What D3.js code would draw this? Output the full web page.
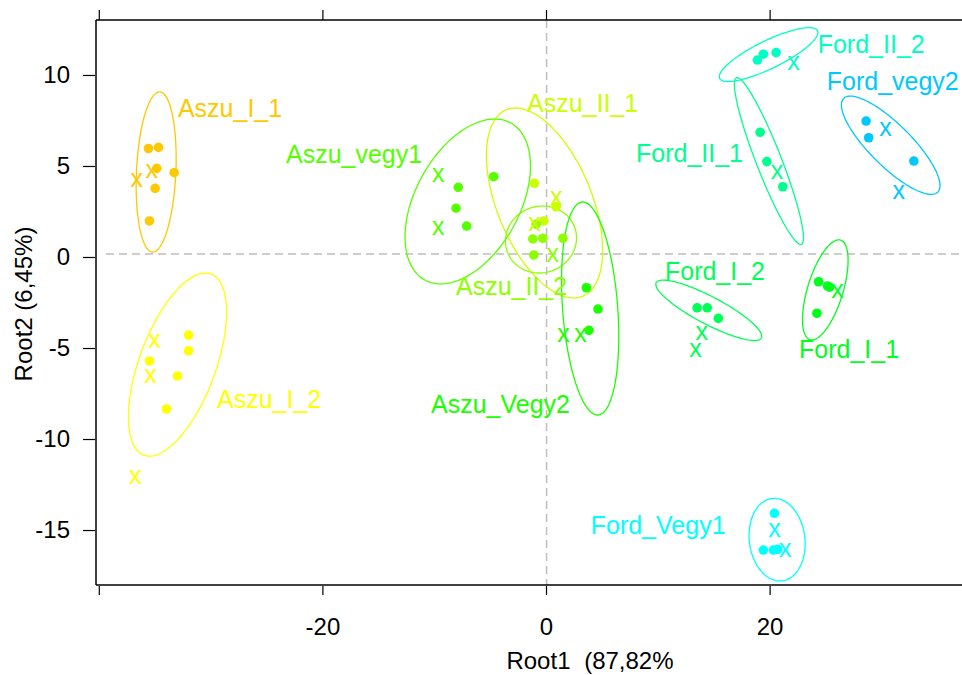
<!DOCTYPE html>
<html>
<head>
<meta charset="utf-8">
<script src="https://cdn.jsdelivr.net/npm/d3@7"></script>
<style>
  html, body { margin: 0; padding: 0; background: #fff; }
  svg { display: block; font-family: "Liberation Sans", Arial, sans-serif; }
</style>
</head>
<body>
<svg id="chart" width="962" height="675"></svg>
<script>
// Groups of the canonical discriminant analysis, in plotting order
const groups = ["Aszu_I_1", "Aszu_I_2", "Aszu_II_1", "Aszu_II_2", "Aszu_vegy1", "Aszu_Vegy2",
                "Ford_I_1", "Ford_I_2", "Ford_II_1", "Ford_II_2", "Ford_Vegy1", "Ford_vegy2"];

// Canonical scores of the classified cases: [group, Root1, Root2]
const scores = [
  ["Aszu_I_1", -35.56, 5.96], ["Aszu_I_1", -34.66, 6.02], ["Aszu_I_1", -34.81, 4.87],
  ["Aszu_I_1", -33.26, 4.63], ["Aszu_I_1", -34.96, 3.77], ["Aszu_I_1", -35.47, 1.98],
  ["Aszu_I_2", -31.97, -4.29], ["Aszu_I_2", -31.97, -5.16], ["Aszu_I_2", -35.47, -5.71],
  ["Aszu_I_2", -32.96, -6.54], ["Aszu_I_2", -33.95, -8.35],
  ["Aszu_II_1", -1.03, 4.05], ["Aszu_II_1", 0.91, 2.76], ["Aszu_II_1", -0.20, 1.98],
  ["Aszu_II_2", -0.88, 1.80], ["Aszu_II_2", -1.18, 0.99], ["Aszu_II_2", -0.29, 1.03],
  ["Aszu_II_2", 1.51, 1.03], ["Aszu_II_2", -1.09, 0.11],
  ["Aszu_vegy1", -4.68, 4.41], ["Aszu_vegy1", -7.85, 3.83], ["Aszu_vegy1", -8.05, 2.68],
  ["Aszu_vegy1", -7.10, 1.70],
  ["Aszu_Vegy2", 3.61, -1.69], ["Aszu_Vegy2", 4.65, -2.86], ["Aszu_Vegy2", 3.84, -4.03],
  ["Ford_I_1", 24.38, -1.36], ["Ford_I_1", 25.18, -1.59], ["Ford_I_1", 25.36, -1.66],
  ["Ford_I_1", 24.23, -3.09],
  ["Ford_I_2", 13.52, -2.79], ["Ford_I_2", 14.42, -2.79], ["Ford_I_2", 15.41, -3.37],
  ["Ford_II_1", 19.15, 6.85], ["Ford_II_1", 19.75, 5.24], ["Ford_II_1", 21.18, 3.86],
  ["Ford_II_2", 18.91, 10.82], ["Ford_II_2", 19.44, 11.14], ["Ford_II_2", 20.58, 11.23],
  ["Ford_Vegy1", 20.43, -14.08], ["Ford_Vegy1", 19.44, -16.10], ["Ford_Vegy1", 20.34, -16.10],
  ["Ford_Vegy1", 20.72, -16.06],
  ["Ford_vegy2", 28.63, 7.47], ["Ford_vegy2", 28.86, 6.55], ["Ford_vegy2", 32.90, 5.27]
];

// Test cases, drawn as "x": [group, Root1, Root2]
const testCases = [
  ["Aszu_I_1", -36.61, 4.18], ["Aszu_I_1", -35.26, 4.69],
  ["Aszu_I_2", -35.02, -4.62], ["Aszu_I_2", -35.38, -6.59], ["Aszu_I_2", -36.73, -12.14],
  ["Aszu_II_1", 0.91, 3.23], ["Aszu_II_1", -1.03, 1.76],
  ["Aszu_II_2", 0.61, 0.07],
  ["Aszu_vegy1", -9.64, 4.47], ["Aszu_vegy1", -9.64, 1.58],
  ["Aszu_Vegy2", 1.57, -4.29], ["Aszu_Vegy2", 3.09, -4.29],
  ["Ford_I_1", 26.08, -1.91],
  ["Ford_I_2", 13.92, -4.19], ["Ford_I_2", 13.38, -5.11],
  ["Ford_II_1", 20.65, 4.65],
  ["Ford_II_2", 22.13, 10.64],
  ["Ford_Vegy1", 20.43, -15.00], ["Ford_Vegy1", 21.39, -16.10],
  ["Ford_vegy2", 30.36, 6.98], ["Ford_vegy2", 31.55, 3.53]
];

// Confidence ellipses per group: centre, half extents along each root, correlation
const ellipseCx = [-34.87, -32.96, -0.13, -0.45, -7.00, 3.95, 24.98, 14.56, 19.94, 19.91, 20.67, 30.83];
const ellipseCy = [4.67, -5.91, 2.97, 0.96, 3.05, -2.83, -1.81, -2.93, 5.27, 11.12, -15.53, 6.14];
const ellipseSx = [1.79, 4.39, 5.20, 3.18, 5.61, 2.56, 2.04, 4.74, 3.09, 4.41, 2.51, 4.41];
const ellipseSy = [4.40, 5.03, 5.22, 1.84, 4.53, 5.85, 2.75, 1.66, 4.58, 1.48, 2.27, 2.70];
const ellipseR  = [0.17, 0.57, -0.5, 0.05, 0.43, -0.26, 0.59, -0.86, -0.92, 0.82, -0.1, -0.82];

// Group label anchors (Root1, Root2)
const labelX = [-32.92, -29.43, -1.70, -8.05, -23.26, -10.29, 22.63, 10.64, 8.05, 24.30, 4.00, 25.11];
const labelY = [7.69, -8.30, 7.97, -2.09, 5.16, -8.57, -5.55, -1.26, 5.24, 11.21, -15.22, 9.18];

// Axis ticks and titles
const xTicks = [-40, -20, 0, 20];
const yTicks = [10, 5, 0, -5, -10, -15];
const xTitle = "Root1 (87,82%";
const yTitle = "Root2 (6,45%)";
// Grand centroid reference lines
const refX = 0.05, refY = 0.16;

// Colour per group
const groupColors = ["#ffc800", "#ffff00", "#ccff00", "#8dff00", "#55ff00", "#1cff00",
                     "#00ff1c", "#00ff55", "#00ff8d", "#00ffc5", "#00ffff", "#00c8ff"];
const color = d3.scaleOrdinal().domain(groups).range(groupColors);

const svg = d3.select("#chart");
const W = 962, H = 675;
const plotL = 96, plotT = 20, plotB = 585, plotR = 975;

const x = d3.scaleLinear().domain([-40.25, 38.37]).range([plotL, plotR]);
const y = d3.scaleLinear().domain([-18.02, 13.02]).range([plotB, plotT]);

svg.append("rect").attr("width", W).attr("height", H).attr("fill", "#fff");

const font = '"Liberation Sans", Arial, sans-serif';

// Reference lines
svg.append("line")
  .attr("x1", x(refX)).attr("x2", x(refX)).attr("y1", plotT).attr("y2", plotB)
  .attr("stroke", "#bdbdbd").attr("stroke-width", 1.5).attr("stroke-dasharray", "8,5");
svg.append("line")
  .attr("x1", plotL + 10).attr("x2", W).attr("y1", y(refY)).attr("y2", y(refY))
  .attr("stroke", "#bdbdbd").attr("stroke-width", 1.5).attr("stroke-dasharray", "8,5");

// Ellipses
const line = d3.line().x(d => x(d[0])).y(d => y(d[1])).curve(d3.curveLinearClosed);
groups.forEach((g, i) => {
  const pts = d3.range(0, 120).map(k => {
    const t = k / 120 * 2 * Math.PI;
    const r = ellipseR[i];
    return [ellipseCx[i] + ellipseSx[i] * Math.cos(t),
            ellipseCy[i] + ellipseSy[i] * (r * Math.cos(t) + Math.sqrt(1 - r * r) * Math.sin(t))];
  });
  svg.append("path").attr("d", line(pts))
    .attr("fill", "none").attr("stroke", color(g)).attr("stroke-width", 1.3);
});

// Case points
svg.append("g").selectAll("circle").data(scores).join("circle")
  .attr("cx", d => x(d[1])).attr("cy", d => y(d[2])).attr("r", 4.8)
  .attr("fill", d => color(d[0]));

// Test cases
svg.append("g").selectAll("text").data(testCases).join("text")
  .attr("x", d => x(d[1])).attr("y", d => y(d[2])).attr("dy", "0.26em")
  .attr("text-anchor", "middle").attr("font-size", 25).attr("font-family", font)
  .attr("fill", d => color(d[0])).text("x");

// Group labels
svg.append("g").selectAll("text").data(groups).join("text")
  .attr("x", (d, i) => x(labelX[i])).attr("y", (d, i) => y(labelY[i]))
  .attr("font-size", 25).attr("font-family", font)
  .attr("fill", d => color(d)).text(d => d);

// Frame
const frame = svg.append("g").attr("stroke", "#000").attr("stroke-width", 1.5).attr("fill", "none");
frame.append("line").attr("x1", plotL).attr("x2", plotL).attr("y1", plotT).attr("y2", plotB);
frame.append("line").attr("x1", plotL).attr("x2", W + 5).attr("y1", plotT).attr("y2", plotT);
frame.append("line").attr("x1", plotL).attr("x2", W + 5).attr("y1", plotB).attr("y2", plotB);

// Axes (plain hyphen for negative numbers)
function styleAxis(g) {
  g.select(".domain").remove();
  g.selectAll(".tick line").attr("stroke", "#000").attr("stroke-width", 1.2);
  g.selectAll(".tick text").attr("font-size", 24).attr("font-family", font).attr("fill", "#000");
}
svg.append("g").attr("transform", `translate(0,${plotB + 1})`)
  .call(d3.axisBottom(x).tickValues(xTicks).tickSize(9).tickPadding(23)
        .tickFormat(d => d === -40 ? "" : String(d)))
  .call(styleAxis);
svg.append("g").attr("transform", `translate(0,${plotT})`)
  .call(d3.axisTop(x).tickValues(xTicks).tickSize(10).tickFormat(""))
  .call(styleAxis);
svg.append("g").attr("transform", `translate(${plotL - 1},0)`)
  .call(d3.axisLeft(y).tickValues(yTicks).tickSize(12).tickPadding(13)
        .tickFormat(d => String(d)))
  .call(styleAxis);

// Axis titles
svg.append("text").attr("x", 590).attr("y", 669)
  .attr("text-anchor", "middle").attr("font-size", 24).attr("font-family", font)
  .attr("word-spacing", "7px").attr("fill", "#000").text(xTitle);
svg.append("text").attr("transform", "translate(32,304) rotate(-90)")
  .attr("text-anchor", "middle").attr("font-size", 24).attr("font-family", font)
  .attr("fill", "#000").text(yTitle);
</script>
</body>
</html>
